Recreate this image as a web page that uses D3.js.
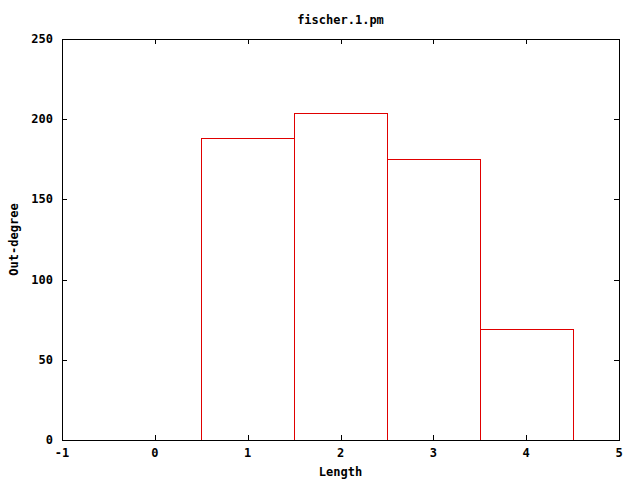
<!DOCTYPE html>
<html>
<head>
<meta charset="utf-8">
<script src="https://cdn.jsdelivr.net/npm/d3@7"></script>
<style>
body { margin: 0; background: #fff; }
text { font-family: "DejaVu Sans Mono", monospace; font-weight: bold; font-size: 12px; fill: #000; }
</style>
</head>
<body>
<svg id="chart" width="640" height="480"></svg>
<script>
// bar data
var lengths = [1, 2, 3, 4]
var outDegree = [188, 204, 175, 69]
var xTicks = [-1, 0, 1, 2, 3, 4, 5]
var yTicks = [0, 50, 100, 150, 200, 250]

var plotL = 62, plotR = 619, plotT = 39, plotB = 440
var tickLen = 5

var svg = d3.select("#chart")

var x = d3.scaleLinear().domain([-1, 5]).range([plotL, plotR])
var y = d3.scaleLinear().domain([0, 250]).range([plotB, plotT])

// ticks on all four sides, pointing inwards
var g = svg.append("g").attr("stroke", "#000").attr("stroke-width", 1)
    .attr("shape-rendering", "crispEdges")

g.selectAll(".xb").data(xTicks).enter().append("line")
    .attr("x1", d => Math.round(x(d)) + 0.5).attr("x2", d => Math.round(x(d)) + 0.5)
    .attr("y1", plotB).attr("y2", plotB - tickLen)
g.selectAll(".xt").data(xTicks).enter().append("line")
    .attr("x1", d => Math.round(x(d)) + 0.5).attr("x2", d => Math.round(x(d)) + 0.5)
    .attr("y1", plotT).attr("y2", plotT + tickLen)
g.selectAll(".yl").data(yTicks).enter().append("line")
    .attr("y1", d => Math.round(y(d)) + 0.5).attr("y2", d => Math.round(y(d)) + 0.5)
    .attr("x1", plotL).attr("x2", plotL + tickLen)
g.selectAll(".yr").data(yTicks).enter().append("line")
    .attr("y1", d => Math.round(y(d)) + 0.5).attr("y2", d => Math.round(y(d)) + 0.5)
    .attr("x1", plotR).attr("x2", plotR - tickLen)

// frame
svg.append("rect")
    .attr("x", plotL + 0.5).attr("y", plotT + 0.5)
    .attr("width", plotR - plotL).attr("height", plotB - plotT)
    .attr("fill", "none").attr("stroke", "#000")
    .attr("shape-rendering", "crispEdges")

// bars: width 1 centred on each length, open at the bottom
svg.selectAll(".bar").data(lengths).enter().append("path")
    .attr("class", "bar")
    .attr("d", function(d, i) {
        var x0 = Math.round(x(d - 0.5)) + 0.5
        var x1 = Math.round(x(d + 0.5)) + 0.5
        var y0 = Math.round(y(outDegree[i])) + 0.5
        return "M" + x0 + "," + plotB + "V" + y0 + "H" + x1 + "V" + plotB
    })
    .attr("fill", "none")
    .attr("stroke", "#e00000")
    .attr("stroke-width", 1)
    .attr("shape-rendering", "crispEdges")

// tick labels
svg.selectAll(".xl").data(xTicks).enter().append("text")
    .attr("x", d => x(d)).attr("y", plotB + 17)
    .attr("text-anchor", "middle")
    .text(d => d)

svg.selectAll(".ylab").data(yTicks).enter().append("text")
    .attr("x", plotL - 9).attr("y", d => y(d) + 4)
    .attr("text-anchor", "end")
    .text(d => d)

// titles
svg.append("text").attr("x", (plotL + plotR) / 2).attr("y", 24)
    .attr("text-anchor", "middle").text("fischer.1.pm")
svg.append("text").attr("x", (plotL + plotR) / 2).attr("y", 476)
    .attr("text-anchor", "middle").text("Length")
svg.append("text")
    .attr("transform", "translate(18," + ((plotT + plotB) / 2) + ") rotate(-90)")
    .attr("text-anchor", "middle").text("Out-degree")
</script>
</body>
</html>
